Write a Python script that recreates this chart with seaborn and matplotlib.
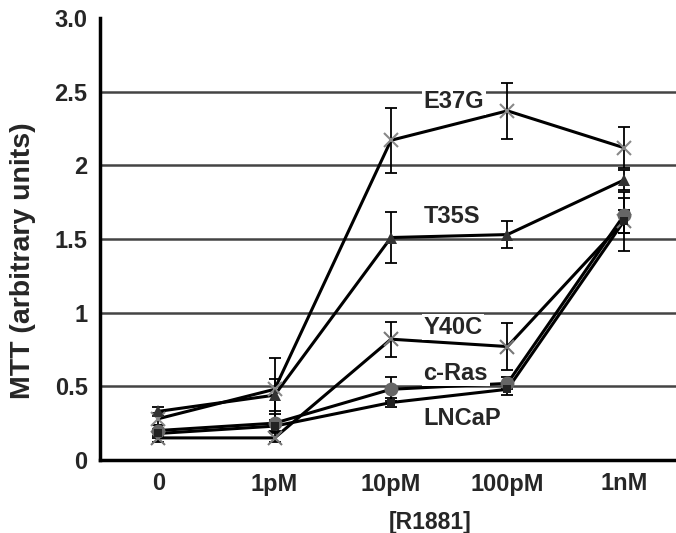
import numpy as np
import pandas as pd
import matplotlib
matplotlib.use("Agg")
import matplotlib.pyplot as plt
import seaborn as sns

# concentrations of R1881 (x categories)
doses = ["0", "1pM", "10pM", "100pM", "1nM"]

# MTT values
e37g = [0.28, 0.48, 2.17, 2.37, 2.12]
t35s = [0.33, 0.44, 1.51, 1.53, 1.90]
y40c = [0.15, 0.15, 0.82, 0.77, 1.62]
cras = [0.20, 0.25, 0.48, 0.52, 1.66]
lncap = [0.18, 0.23, 0.39, 0.48, 1.62]

# error bar half-widths
e37g_err = [0.04, 0.21, 0.22, 0.19, 0.14]
t35s_err = [0.03, 0.11, 0.17, 0.09, 0.07]
y40c_err = [0.03, 0.03, 0.12, 0.16, 0.20]
cras_err = [0.04, 0.06, 0.08, 0.04, 0.12]
lncap_err = [0.03, 0.03, 0.03, 0.04, 0.08]

series = ["E37G", "T35S", "Y40C", "c-Ras", "LNCaP"]
values = [e37g, t35s, y40c, cras, lncap]
errors = [e37g_err, t35s_err, y40c_err, cras_err, lncap_err]

# label anchor (y, data units) for the in-plot text
label_y = [2.43, 1.65, 0.90, 0.59, 0.28]

sns.set_style("white")
plt.rcParams["font.family"] = ["Liberation Sans", "DejaVu Sans"]
plt.rcParams["font.weight"] = "bold"

df = pd.DataFrame({
    "x": np.tile(np.arange(len(doses)), len(series)),
    "MTT": np.concatenate(values),
    "line": np.repeat(series, len(doses)),
})

fig = plt.figure(figsize=(6.76, 5.33), dpi=100)
ax = fig.add_axes([100 / 676, 1 - 460 / 533, 582 / 676, 442 / 533])

for yv in [0.5, 1.0, 1.5, 2.0, 2.5]:
    ax.axhline(yv, color="#444444", lw=1.8, zorder=0)

styles = {
    "E37G": dict(marker="x", color="#888888", ms=10, mew=1.5),
    "T35S": dict(marker="^", color="#333333", ms=8, mew=0),
    "Y40C": dict(marker="x", color="#777777", ms=10, mew=1.5),
    "c-Ras": dict(marker="o", color="#666666", ms=10, mew=0),
    "LNCaP": dict(marker="s", color="#222222", ms=6, mew=0),
}

for name, err in zip(series, errors):
    sub = df[df["line"] == name]
    ax.errorbar(sub["x"], sub["MTT"], yerr=err, fmt="none", ecolor="black",
                elinewidth=1.3, capsize=4, capthick=1.3, zorder=2)
    sns.lineplot(data=sub, x="x", y="MTT", ax=ax, color="black", lw=2.2,
                 zorder=3, legend=False)
    st = styles[name]
    ax.plot(sub["x"], sub["MTT"], ls="none", marker=st["marker"],
            color=st["color"], ms=st["ms"], mew=st["mew"], zorder=4)

for name, ly in zip(series, label_y):
    ax.text(2.28, ly, name, fontsize=17, fontweight="bold", ha="left",
            va="center", zorder=5,
            bbox=dict(facecolor="white", edgecolor="none", pad=1))

ax.set_xlim(-0.5, 4.5)
ax.set_ylim(0, 3.0)
ax.set_xticks(range(len(doses)))
ax.set_xticklabels(doses, fontsize=17, fontweight="bold")
ax.set_xticks(np.arange(-0.5, 4.6, 1), minor=True)
ax.tick_params(axis="x", which="major", length=0, pad=9)
ax.tick_params(axis="x", which="minor", length=4, width=1.5, direction="out")
ax.set_yticks([0, 0.5, 1, 1.5, 2, 2.5, 3.0])
ax.set_yticklabels(["0", "0.5", "1", "1.5", "2", "2.5", "3.0"],
                   fontsize=17, fontweight="bold")
ax.tick_params(axis="y", length=4, width=1.5, direction="out", pad=5)

ax.set_xlabel("")
ax.set_ylabel("")
fig.text(23 / 676, 1 - 261 / 533, "MTT (arbitrary units)", fontsize=20.5,
         fontweight="bold", rotation=90, ha="center", va="center")
fig.text(430 / 676, 1 - 522 / 533, "[R1881]", fontsize=16.5,
         fontweight="bold", ha="center", va="center")

sns.despine(ax=ax, top=True, right=True)
for sp in ["left", "bottom"]:
    ax.spines[sp].set_linewidth(2.5)
    ax.spines[sp].set_color("black")

fig.savefig("out.png", dpi=100)
